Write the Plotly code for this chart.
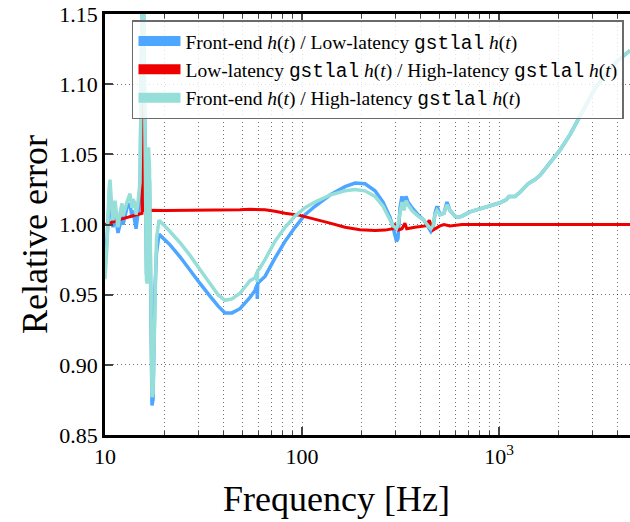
import plotly.graph_objects as go

# ---------------- data ----------------
fe_ll_freq = [10.00, 10.24, 10.48, 10.60, 10.85, 10.98, 11.24, 11.37, 11.64, 11.92, 12.20, 12.34,
              12.63, 12.93, 13.39, 13.71, 13.87, 14.20, 14.37, 14.71, 15.06, 15.23, 15.41, 15.68,
              15.96, 16.24, 16.43, 16.63, 16.82, 17.12, 17.32, 17.53, 17.94, 18.26, 18.80, 19.47,
              20.17, 21.38, 24.03, 27.01, 30.35, 34.12, 37.47, 40.65, 44.13, 48.46, 54.45, 57.73,
              59.10, 59.30, 59.60, 60.50, 64.9, 72.9, 82.0, 92.2, 103.6, 116.4, 138.7, 165.3, 185.8,
              208.9, 234.8, 257.8, 279.8, 289.7, 296.6, 301.8, 307.1, 314.4, 321.8, 329.4, 337.2,
              345.2, 361.7, 388.0, 416.3, 436.2, 451.7, 462.4, 473.3, 484.5, 501.8, 525.8, 544.5,
              564.0, 597.9, 619.3, 648.9, 712.6, 801.3, 900.3, 1011.8, 1085, 1124, 1206, 1278, 1404,
              1523, 1615, 1815, 2040, 2293, 2670, 3071, 3533, 4019, 4624]
fe_ll_err = [0.975, 0.990, 1.015, 1.020, 1.005, 0.998, 1.010, 1.004, 0.994, 1.000, 1.008, 1.000,
             1.006, 1.012, 1.015, 1.005, 1.010, 1.000, 0.997, 1.008, 1.020, 1.090, 1.150, 1.160,
             1.050, 0.965, 0.960, 1.040, 1.030, 0.920, 0.871, 0.875, 0.955, 0.980, 0.993, 0.991,
             0.989, 0.9855, 0.977, 0.967, 0.958, 0.949, 0.942, 0.937, 0.937, 0.940, 0.948, 0.953,
             0.957, 0.947, 0.958, 0.959, 0.963, 0.976, 0.988, 0.998, 1.007, 1.013, 1.021, 1.027, 1.0295,
             1.029, 1.024, 1.016, 1.005, 0.998, 0.993, 0.988, 0.990, 1.012, 1.020, 1.013, 1.020,
             1.016, 1.012, 1.007, 1.003, 0.998, 0.995, 0.997, 1.008, 1.013, 1.007, 1.008, 1.016,
             1.010, 1.006, 1.005, 1.006, 1.009, 1.011, 1.0135, 1.0155, 1.0175, 1.020, 1.020, 1.023, 1.029,
             1.032, 1.035, 1.044, 1.053, 1.064, 1.081, 1.097, 1.108, 1.117, 1.124]

ll_hl_freq = [10.00, 10.60, 11.24, 11.64, 12.20, 12.93, 14.20, 15.06, 15.41, 15.50, 15.68, 15.87,
              16.63, 20.17, 30.35, 40.65, 48.46, 54.45, 60.50, 64.9, 72.9, 82.0, 97.6, 116.4, 138.7,
              165.3, 197.0, 234.8, 264.0, 289.7, 296.6, 307.1, 321.8, 333.0, 340.0, 374.0, 422.0,
              443.0, 462.4, 501.8, 525.8, 564.0, 648.9, 801.3, 1011.8, 2040, 4624]
ll_hl_err = [1.000, 1.001, 1.002, 1.003, 1.004, 1.005, 1.0065, 1.0075, 1.008, 1.120, 1.100, 1.010,
             1.0102, 1.0100, 1.0100, 1.0102, 1.0105, 1.0108, 1.0108, 1.0105, 1.0095, 1.008, 1.0065,
             1.004, 1.001, 0.998, 0.9962, 0.9957, 0.996, 0.997, 0.9995, 0.996, 0.997, 1.001, 0.997,
             0.998, 0.999, 1.003, 0.996, 0.999, 1.000, 0.999, 1.000, 1.000, 1.000, 1.000, 1.000]

fe_hl_freq = fe_ll_freq
fe_hl_err = [0.961, 0.985, 1.025, 1.032, 1.010, 1.003, 1.017, 1.010, 0.998, 1.008, 1.015, 1.006,
             1.012, 1.016, 1.022, 1.012, 1.018, 1.015, 1.007, 1.016, 1.030, 1.100, 1.160, 1.170,
             1.060, 0.960, 0.958, 1.055, 1.040, 0.930, 0.877, 0.880, 0.960, 0.990, 1.003, 1.001,
             0.999, 0.995, 0.987, 0.978, 0.968, 0.958, 0.950, 0.946, 0.947, 0.951, 0.960, 0.962,
             0.966, 0.959, 0.967, 0.968, 0.975, 0.988, 0.998, 1.006, 1.012, 1.016, 1.021, 1.024, 1.025,
             1.024, 1.020, 1.013, 1.004, 0.999, 0.998, 0.997, 1.000, 1.010, 1.016, 1.010, 1.017,
             1.014, 1.010, 1.006, 1.003, 0.999, 0.997, 0.999, 1.007, 1.010, 1.007, 1.008, 1.014,
             1.010, 1.006, 1.005, 1.006, 1.009, 1.011, 1.0135, 1.0155, 1.0175, 1.020, 1.020, 1.023, 1.029,
             1.032, 1.035, 1.044, 1.053, 1.064, 1.081, 1.097, 1.108, 1.117, 1.124]

x_tickvals = [10, 100, 1000]
x_ticktext = ["10", "100", "10<sup>3</sup>"]
x_minor = [20, 30, 40, 50, 60, 70, 80, 90, 200, 300, 400, 500, 600, 700, 800, 900, 2000, 3000, 4000]
y_tickvals = [0.85, 0.90, 0.95, 1.00, 1.05, 1.10, 1.15]
y_ticktext = ["0.85", "0.90", "0.95", "1.00", "1.05", "1.10", "1.15"]

x_title = "Frequency [Hz]"
y_title = "Relative error"

C_BLUE = "#4da6ff"
C_RED = "#ee0000"
C_CYAN = "#96ded8"

MONO = "<span style='font-family:Liberation Mono'>gstlal</span>"
H = "<i>h</i>(<i>t</i>)"
labels = [
    f"Front-end {H} / Low-latency {MONO} {H}",
    f"Low-latency {MONO} {H} / High-latency {MONO} {H}",
    f"Front-end {H} / High-latency {MONO} {H}",
]

fig = go.Figure()
fig.add_trace(go.Scatter(x=fe_ll_freq, y=fe_ll_err, mode="lines",
                         line=dict(color=C_BLUE, width=3.5), showlegend=False))
fig.add_trace(go.Scatter(x=ll_hl_freq, y=ll_hl_err, mode="lines",
                         line=dict(color=C_RED, width=3), showlegend=False))
fig.add_trace(go.Scatter(x=fe_hl_freq, y=fe_hl_err, mode="lines",
                         line=dict(color=C_CYAN, width=3.5), showlegend=False))
for i, (lab, col) in enumerate(zip(labels, [C_BLUE, C_RED, C_CYAN])):
    fig.add_trace(go.Scatter(x=[None], y=[None], mode="lines", name=lab,
                             line=dict(color=col, width=10), legendgroup=f"g{i}"))

SERIF = "Liberation Serif"
GRIDC = "rgba(0,0,0,0.55)"

fig.update_layout(
    width=630, height=522,
    margin=dict(l=105, r=0, t=14, b=87, autoexpand=False),
    paper_bgcolor="white", plot_bgcolor="white",
    font=dict(family=SERIF, color="black"),
    showlegend=True,
    legend=dict(x=0.0514, y=0.985, xanchor="left", yanchor="top",
                bgcolor="rgba(255,255,255,0.8)", bordercolor="#6a6a6a", borderwidth=1.5,
                font=dict(family=SERIF, size=19.5, color="black"),
                tracegroupgap=0, itemwidth=42),
    xaxis=dict(type="log", range=[1.0, 3.665], tickvals=x_tickvals, ticktext=x_ticktext,
               tickfont=dict(size=22, family=SERIF), ticks="inside", ticklen=8, tickwidth=1.5,
               showline=True, linecolor="black", linewidth=2.5, mirror="ticks",
               showgrid=True, gridcolor=GRIDC, griddash="1px,3px", gridwidth=1,
               minor=dict(tickvals=x_minor, ticks="inside", ticklen=4, tickwidth=1,
                          showgrid=True, gridcolor=GRIDC, griddash="1px,3px", gridwidth=1),
               zeroline=False, automargin=False),
    yaxis=dict(range=[0.85, 1.15], tickvals=y_tickvals, ticktext=y_ticktext,
               tickfont=dict(size=22, family=SERIF), ticks="inside", ticklen=8, tickwidth=1.5,
               showline=True, linecolor="black", linewidth=2.5, mirror=False,
               showgrid=True, gridcolor=GRIDC, griddash="1px,3px", gridwidth=1,
               zeroline=False, automargin=False),
    annotations=[
        dict(text=x_title, xref="paper", yref="paper", x=(336 - 105) / 525, y=-(499 - 435) / 421,
             xanchor="center", yanchor="middle", showarrow=False,
             font=dict(size=36, family=SERIF, color="black")),
        dict(text=y_title, xref="paper", yref="paper", x=(35 - 105) / 525, y=(435 - 235) / 421,
             xanchor="center", yanchor="middle", showarrow=False, textangle=-90,
             font=dict(size=36, family=SERIF, color="black")),
    ],
)

fig.write_html("out.html")
